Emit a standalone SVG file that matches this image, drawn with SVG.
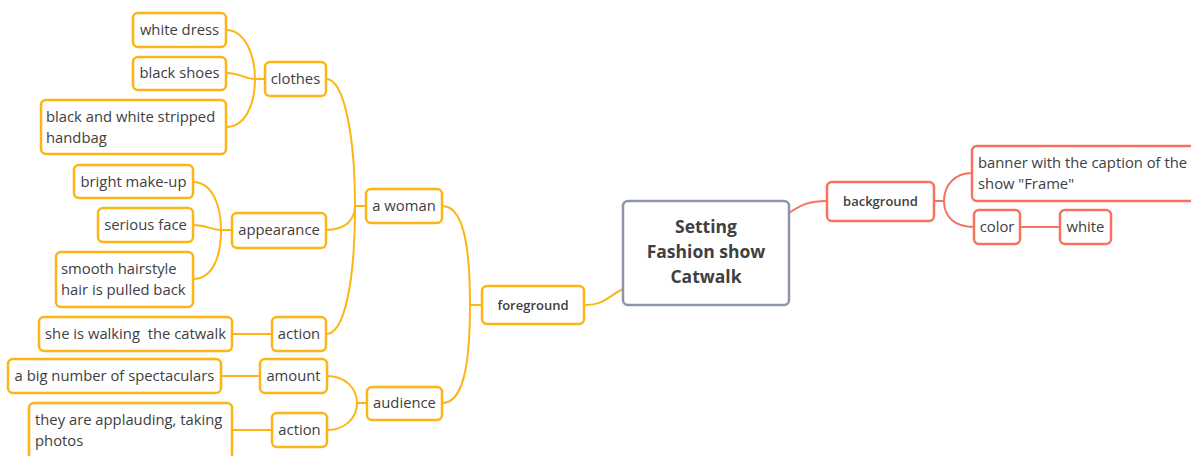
<svg xmlns="http://www.w3.org/2000/svg" width="1191" height="456" viewBox="0 0 1191 456">
<style>
.o{fill:#fff;stroke:#FDB515;stroke-width:2.5}
.r{fill:#fff;stroke:#F7735F;stroke-width:2.5}
.c{fill:#fff;stroke:#8C96A8;stroke-width:2.5}
.lo{fill:none;stroke:#FDB515;stroke-width:2}
.lr{fill:none;stroke:#F7735F;stroke-width:2}
text{font-family:"Open Sans","Noto Sans","Liberation Sans",sans-serif;font-size:14.8px;fill:#404040}
.m{text-anchor:middle}
.b{font-weight:600;font-size:13px}
.t{font-weight:700;font-size:17.5px;text-anchor:middle}
.pre{white-space:pre}
</style>
<g id="connectors">
<path class="lo" d="M584,305 C605,305 608,296 623,289"/>
<path class="lo" d="M482,305 L470,305"/>
<path class="lo" d="M442,206 C462,206 470,240 470,305 C470,370 462,403 442,403"/>
<path class="lo" d="M366,206 L355,206"/>
<path class="lo" d="M326,79 C345,79 355,140 355,206 C355,280 345,334 326,334"/>
<path class="lo" d="M326,230 C345,230 355,220 355,206"/>
<path class="lo" d="M265,79 L255,79"/>
<path class="lo" d="M226,30 C245,30 255,55 255,79 C255,105 245,127 226,127"/>
<path class="lo" d="M226,73 C240,73 245,79 255,79"/>
<path class="lo" d="M232,230 L221,230"/>
<path class="lo" d="M193,182 C212,182 221,205 221,230 C221,258 212,279 193,279"/>
<path class="lo" d="M193,225 C207,225 212,230 221,230"/>
<path class="lo" d="M272,334 L232,334"/>
<path class="lo" d="M367,403 L357,403"/>
<path class="lo" d="M327,376 C345,376 357,388 357,403 C357,418 345,430 327,430"/>
<path class="lo" d="M260,376 L221,376"/>
<path class="lo" d="M272,430 L232,430"/>
<path class="lr" d="M789,213 C802,204 810,201 827,201"/>
<path class="lr" d="M934,201 L944,201"/>
<path class="lr" d="M972,173 C955,173 944,185 944,201 C944,217 955,227 974,227"/>
<path class="lr" d="M1020,227 L1060,227"/>
</g>
<g id="central"><rect class="c" x="623" y="201" width="166" height="104" rx="5"/>
<text class="t" x="706" y="233">Setting</text><text class="t" x="706" y="258">Fashion show</text><text class="t" x="706" y="283">Catwalk</text></g>
<g id="background"><rect class="r" x="827" y="182" width="107" height="39" rx="5"/><text class="b m" x="880.5" y="206">background</text></g>
<g id="banner"><rect class="r" x="972" y="146" width="230" height="55" rx="5"/><text x="978" y="168">banner with the caption of the</text><text x="978" y="189">show "Frame"</text></g>
<g id="color"><rect class="r" x="974" y="210" width="46" height="34" rx="5"/><text class="m" x="997" y="232">color</text></g>
<g id="white"><rect class="r" x="1060" y="210" width="51" height="34" rx="5"/><text class="m" x="1085.5" y="232">white</text></g>
<g id="foreground"><rect class="o" x="482" y="286" width="102" height="38" rx="5"/><text class="b m" x="533" y="310">foreground</text></g>
<g id="awoman"><rect class="o" x="366" y="189" width="76" height="34" rx="5"/><text class="m" x="404" y="211">a woman</text></g>
<g id="audience"><rect class="o" x="367" y="387" width="75" height="33" rx="5"/><text class="m" x="404.5" y="408">audience</text></g>
<g id="clothes"><rect class="o" x="265" y="62" width="61" height="34" rx="5"/><text class="m" x="295.5" y="84">clothes</text></g>
<g id="whitedress"><rect class="o" x="133" y="13" width="93" height="34" rx="5"/><text class="m" x="179.5" y="35">white dress</text></g>
<g id="blackshoes"><rect class="o" x="133" y="57" width="93" height="33" rx="5"/><text class="m" x="179.5" y="78">black shoes</text></g>
<g id="handbag"><rect class="o" x="41" y="100" width="185" height="54" rx="5"/><text x="46" y="122">black and white stripped</text><text x="46" y="143">handbag</text></g>
<g id="appearance"><rect class="o" x="232" y="213" width="94" height="35" rx="5"/><text class="m" x="279" y="235">appearance</text></g>
<g id="makeup"><rect class="o" x="74" y="165" width="119" height="33" rx="5"/><text class="m" x="133.5" y="187">bright make-up</text></g>
<g id="seriousface"><rect class="o" x="98" y="208" width="95" height="34" rx="5"/><text class="m" x="145.5" y="230">serious face</text></g>
<g id="hairstyle"><rect class="o" x="56" y="252" width="137" height="55" rx="5"/><text x="61" y="274">smooth hairstyle</text><text x="61" y="295">hair is pulled back</text></g>
<g id="action1"><rect class="o" x="272" y="317" width="54" height="34" rx="5"/><text class="m" x="299" y="339">action</text></g>
<g id="walking"><rect class="o" x="39" y="317" width="193" height="34" rx="5"/><text class="pre" x="45" y="339">she is walking  the catwalk</text></g>
<g id="amount"><rect class="o" x="260" y="359" width="67" height="34" rx="5"/><text class="m" x="293.5" y="381">amount</text></g>
<g id="bignumber"><rect class="o" x="8" y="359" width="213" height="34" rx="5"/><text class="m" x="114.5" y="381">a big number of spectaculars</text></g>
<g id="action2"><rect class="o" x="272" y="413" width="55" height="34" rx="5"/><text class="m" x="299.5" y="435">action</text></g>
<g id="applauding"><rect class="o" x="29" y="403" width="203" height="60" rx="5"/><text x="35" y="425">they are applauding, taking</text><text x="35" y="446">photos</text></g>
</svg>
